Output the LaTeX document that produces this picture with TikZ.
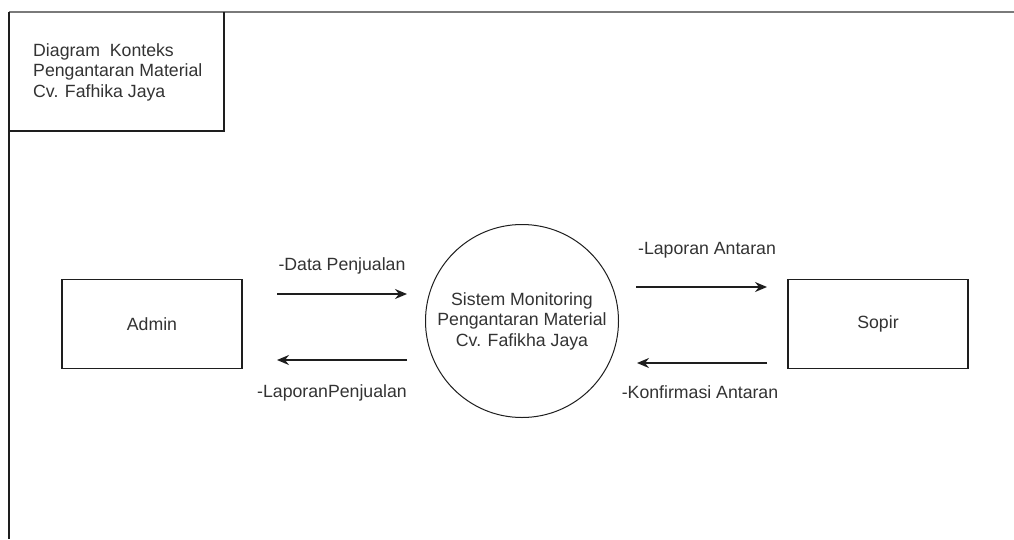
\documentclass[tikz,border=0pt]{standalone}
\usepackage{fontspec}
\setmainfont{Liberation Sans}
\usetikzlibrary{arrows.meta}
\definecolor{inkline}{HTML}{1E1E1E}
\definecolor{inktext}{HTML}{333333}
\definecolor{frameline}{HTML}{7A7A7A}
\begin{document}
\begin{tikzpicture}[x=1pt,y=-1pt,
  every node/.style={font=\fontsize{17.7}{20.5}\selectfont, text=inktext, inner sep=0pt},
  entity/.style={draw=inkline, line width=1.4pt, minimum width=180pt, minimum height=89pt},
  process/.style={draw=inkline, line width=1pt, circle, minimum size=193pt, align=center},
  flow/.style={draw=inkline, line width=1.7pt, -{Stealth[length=12pt,width=10pt,inset=4pt]}},
  flowlabel/.style={anchor=center}
]
\useasboundingbox (0,0) rectangle (1014,539);
\fill[white] (0,0) rectangle (1014,539);

% page frame: grey top rule, dark left rule
\draw[frameline, line width=1.2pt] (9,12) -- (1014,12);
\draw[inkline, line width=1.4pt] (9,12) -- (9,539);

% title box
\draw[inkline, line width=1.4pt] (9,131) -- (224,131) -- (224,12);
\node[align=left, anchor=west] (title) at (33,72) {Diagram\ \ Konteks\\Pengantaran Material\\Cv. Fafhika Jaya};

% external entities and the process
\node[entity] (admin) at (152,324) {Admin};
\node[entity] (sopir) at (878,324) {Sopir};
\node[process] (sys) at (522,321) {Sistem Monitoring\\Pengantaran Material\\Cv. Fafikha Jaya};

% data flow end points
\coordinate (dpS) at (277,294);
\coordinate (dpE) at (407,294);
\coordinate (lpS) at (407,360);
\coordinate (lpE) at (277,360);
\coordinate (laS) at (636,287);
\coordinate (laE) at (767,287);
\coordinate (kaS) at (767,363);
\coordinate (kaE) at (637,363);

\draw[flow] (dpS) -- (dpE);
\draw[flow] (lpS) -- (lpE);
\draw[flow] (laS) -- (laE);
\draw[flow] (kaS) -- (kaE);

% flow labels
\node[flowlabel] (ldp) at (342,266) {-Data Penjualan};
\node[flowlabel] (llp) at (332,393) {-LaporanPenjualan};
\node[flowlabel] (lla) at (707,250) {-Laporan Antaran};
\node[flowlabel] (lka) at (700,392) {-Konfirmasi Antaran};
\end{tikzpicture}
\end{document}
